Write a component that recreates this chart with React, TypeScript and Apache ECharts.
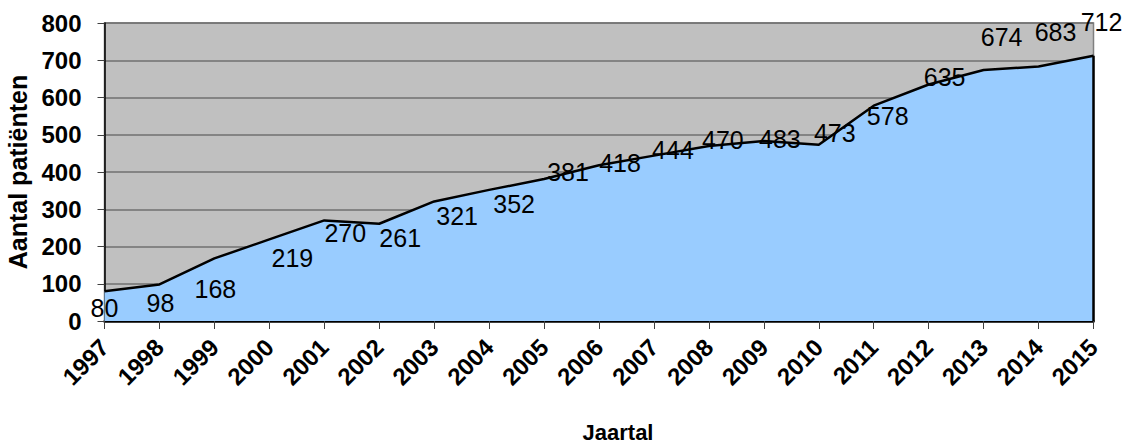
import React, { useEffect, useRef } from "react";
import * as echarts from "echarts";

const years = ["1997","1998","1999","2000","2001","2002","2003","2004","2005","2006","2007","2008","2009","2010","2011","2012","2013","2014","2015"];
const patients = [80, 98, 168, 219, 270, 261, 321, 352, 381, 418, 444, 470, 483, 473, 578, 635, 674, 683, 712];
// label offsets (px) relative to each data point, as placed in the reference
const labelDx = [0, 1, 1, 23, 21, 21, 23, 25, 24, 21, 19, 14, 16, 16, 14, 16, 18, 17, 8];
const labelDy = [17, 19, 31, 19, 13, 14, 15, 14, -7, -2, -6, -6, -2, -12, 10, -7, -33, -35, -34];

const FONT = "'Liberation Sans', Arial, sans-serif";

export default function App() {
  const ref = useRef<HTMLDivElement>(null);
  useEffect(() => {
    document.body.style.margin = "0";
    const chart = echarts.init(ref.current!, null, { renderer: "svg" });
    chart.setOption({
      animation: false,
      textStyle: { fontFamily: FONT },
      grid: {
        left: 104.5,
        right: 31.5,
        top: 23,
        bottom: 125,
        containLabel: false,
        outerBoundsMode: "none",
        show: true,
        backgroundColor: "#C0C0C0",
        borderColor: "#808080",
        borderWidth: 1.5,
      },
      xAxis: {
        type: "category",
        data: years,
        boundaryGap: false,
        name: "Jaartal",
        nameLocation: "middle",
        nameGap: 100,
        nameTextStyle: {
          fontFamily: FONT,
          fontWeight: "bold",
          fontSize: 22,
          color: "#000",
          padding: [0, 0, 0, 38],
        },
        axisLine: { show: true, lineStyle: { color: "#000", width: 2.5 } },
        axisTick: { show: true, interval: 0, length: 8, lineStyle: { color: "#404040", width: 1 } },
        axisLabel: {
          interval: 0,
          rotate: 45,
          margin: 22,
          fontFamily: FONT,
          fontWeight: "bold",
          fontSize: 24,
          color: "#000",
        },
        splitLine: { show: false },
      },
      yAxis: {
        type: "value",
        min: 0,
        max: 800,
        interval: 100,
        name: "Aantal patiënten",
        nameLocation: "middle",
        nameRotate: 90,
        nameGap: 68,
        nameTextStyle: { fontFamily: FONT, fontWeight: "bold", fontSize: 25, color: "#000" },
        axisLine: { show: true, lineStyle: { color: "#000", width: 1.5 } },
        axisTick: { show: true, length: 7, lineStyle: { color: "#404040", width: 1 } },
        axisLabel: { margin: 23, fontFamily: FONT, fontWeight: "bold", fontSize: 24, color: "#000" },
        splitLine: { show: true, lineStyle: { color: "#707070", width: 1.5 } },
      },
      series: [
        {
          type: "line",
          data: patients.map((v, i) => ({
            value: v,
            label: { offset: [labelDx[i], labelDy[i]] },
          })),
          symbol: "circle",
          symbolSize: 1,
          itemStyle: { color: "rgba(0,0,0,0)" },
          lineStyle: { color: "#000", width: 2.5 },
          areaStyle: { color: "#99CCFF", opacity: 1 },
          label: {
            show: true,
            position: "inside",
            align: "center",
            verticalAlign: "middle",
            fontFamily: FONT,
            fontSize: 25,
            color: "#000",
          },
          markLine: {
            silent: true,
            symbol: "none",
            label: { show: false },
            lineStyle: { color: "#000", width: 2.5, type: "solid" },
            data: [
              [
                { coord: [years[years.length - 1], 0] },
                { coord: [years[years.length - 1], patients[patients.length - 1]] },
              ],
            ],
          },
        },
      ],
    });
    return () => chart.dispose();
  }, []);
  return <div ref={ref} style={{ width: 1125, height: 446 }} />;
}
